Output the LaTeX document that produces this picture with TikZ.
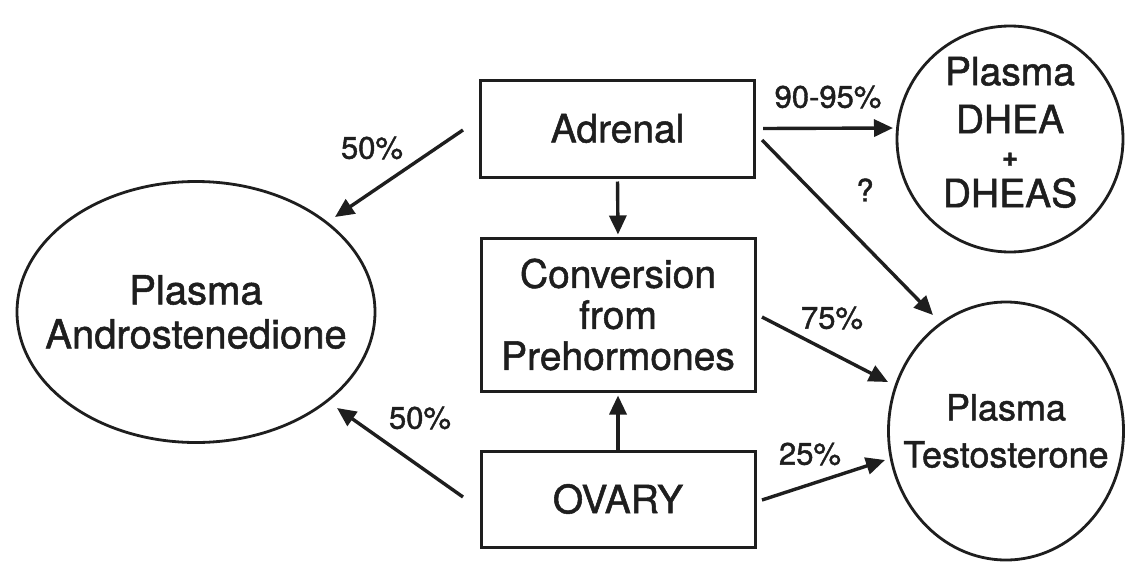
\documentclass[tikz,border=0pt]{standalone}
\usepackage{fontspec}
\setmainfont{TeX Gyre Heros}[FakeBold=1.3]
\usetikzlibrary{arrows.meta,shapes.geometric,calc}
\definecolor{ink}{HTML}{1E1E1E}
\tikzset{
  organ/.style={draw=ink, line width=3pt, rectangle, minimum width=274pt, inner sep=0pt,
    text=ink, align=center, font=\fontsize{39}{41}\selectfont},
  % the shape size is fixed by minimum width/height alone
  pool/.style={draw=ink, line width=2.8pt, ellipse, inner sep=-300pt, text=ink, align=center},
  flow/.style={draw=ink, line width=3.4pt, -{Triangle[length=19pt,width=17pt]}},
  pct/.style={text=ink, font=\fontsize{31}{31}\selectfont, inner sep=0pt}
}
\begin{document}
\begin{tikzpicture}[x=1pt,y=-1pt]
  \useasboundingbox (0,0) rectangle (1125,563);
  \fill[white] (0,0) rectangle (1125,563);

  % sources and intermediate conversion
  \node[organ, minimum height=97pt] (adrenal) at (617.5,128.5) {Adrenal};
  \node[organ, minimum height=153pt] (conv) at (618,314.5) {Conversion\\from\\Prehormones};
  \node[organ, minimum height=96pt] (ovary) at (618,499) {OVARY};

  % plasma pools
  \node[pool, minimum width=358pt, minimum height=261pt,
        font=\fontsize{40}{44}\selectfont] (andro) at (196,312) {Plasma\\Androstenedione};
  \node[pool, minimum width=226pt, minimum height=226pt, text depth=14pt,
        font=\fontsize{39}{48}\selectfont] (dhea) at (1010,139)
        {Plasma\\DHEA\\[-15pt]{\fontsize{28}{28}\selectfont\bfseries +}\\[-7pt]DHEAS};
  \node[pool, minimum width=235pt, minimum height=258pt,
        font=\fontsize{36}{47}\selectfont] (testo) at (1006,431) {Plasma\\Testosterone};

  % secretion and conversion pathways
  \draw[flow] ($(adrenal.center)+(-154.5,1.5)$) -- ($(andro.center)+(139,-95)$);
  \draw[flow] ($(ovary.center)+(-155,-2)$) -- ($(andro.center)+(141,96)$);
  \draw[flow] ($(adrenal.east)+(7,0)$) -- ($(dhea.center)+(-117,-11)$);
  \draw[flow] ($(adrenal.center)+(144.5,11.5)$) -- ($(testo.center)+(-73,-116)$);
  \draw[flow] ($(conv.center)+(144,2.5)$) -- ($(testo.center)+(-118,-49)$);
  \draw[flow] ($(ovary.center)+(144,1)$) -- ($(testo.center)+(-121,29)$);
  \draw[flow, shorten <=3pt, shorten >=2pt] (adrenal.south) -- (conv.north);
  \draw[flow, shorten >=3pt] (ovary.north) -- (conv.south);

  % fractions
  \node[pct] (p1) at (372,148) {50\%};
  \node[pct] (p2) at (420,418) {50\%};
  \node[pct] (p3) at (828,97) {90-95\%};
  \node[pct] (p4) at (865,190) {?};
  \node[pct] (p5) at (832,318) {75\%};
  \node[pct] (p6) at (810,454) {25\%};
\end{tikzpicture}
\end{document}
